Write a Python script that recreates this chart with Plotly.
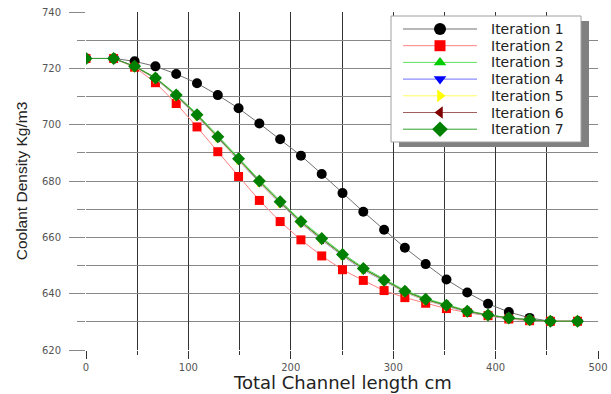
import plotly.graph_objects as go

x_cm = [0, 27, 47.5, 67.8, 88.1, 108.4, 128.7, 149, 169.3, 189.6, 209.9, 230.2,
        250.5, 270.8, 291.1, 311.4, 331.7, 352, 372.3, 392.6, 412.9, 433.2, 453.5, 480]

it1 = [723.5, 723.5, 722.5, 720.7, 718.0, 714.7, 710.5, 705.8, 700.4, 694.8, 689.0, 682.5,
       675.7, 669.1, 662.7, 656.3, 650.5, 645.0, 640.4, 636.4, 633.5, 631.4, 630.2, 630.2]
it2 = [723.5, 723.5, 720.4, 714.9, 707.5, 699.2, 690.4, 681.6, 673.1, 665.6, 659.1, 653.4,
       648.5, 644.7, 641.1, 638.6, 636.6, 634.7, 633.3, 632.2, 631.0, 630.4, 630.2, 630.2]
it3 = [723.5, 723.5, 720.8, 716.8, 710.8, 703.9, 696.1, 688.3, 680.4, 673.0, 666.0, 660.0,
       654.3, 649.3, 645.2, 641.2, 638.3, 636.1, 634.0, 632.5, 631.5, 630.8, 630.2, 630.2]
it4 = [723.5, 723.5, 720.6, 716.3, 710.1, 703.0, 695.2, 687.3, 679.4, 672.0, 665.0, 659.0,
       653.4, 648.4, 644.3, 640.5, 637.6, 635.5, 633.5, 632.2, 631.2, 630.6, 630.2, 630.2]
it5 = [723.5, 723.5, 720.6, 716.4, 710.2, 703.1, 695.3, 687.5, 679.6, 672.2, 665.2, 659.2,
       653.6, 648.6, 644.5, 640.6, 637.7, 635.6, 633.6, 632.3, 631.3, 630.6, 630.2, 630.2]
it6 = [723.5, 723.5, 720.7, 716.5, 710.4, 703.3, 695.5, 687.7, 679.8, 672.4, 665.4, 659.4,
       653.8, 648.8, 644.7, 640.8, 637.9, 635.8, 633.7, 632.4, 631.4, 630.7, 630.2, 630.2]
it7 = [723.5, 723.5, 720.7, 716.6, 710.5, 703.5, 695.7, 687.9, 680.0, 672.6, 665.6, 659.6,
       653.9, 648.9, 644.8, 640.9, 638.0, 635.9, 633.8, 632.4, 631.4, 630.7, 630.2, 630.2]

names = ["Iteration 1", "Iteration 2", "Iteration 3", "Iteration 4",
         "Iteration 5", "Iteration 6", "Iteration 7"]
series = [it1, it2, it3, it4, it5, it6, it7]

styles = [
    dict(mc="#000000", lc="#707070", sym="circle", size=10),
    dict(mc="#ff0000", lc="#ff8080", sym="square", size=9),
    dict(mc="#00cc00", lc="#60e060", sym="triangle-up", size=9),
    dict(mc="#0000ff", lc="#7070ff", sym="triangle-down", size=9),
    dict(mc="#ffff00", lc="#ffff60", sym="triangle-right", size=9),
    dict(mc="#800000", lc="#a06060", sym="triangle-left", size=9),
    dict(mc="#008000", lc="#30a030", sym="diamond", size=10),
]

W, H = 611, 394
ml, mr, mt, mb = 86, 13, 12, 44
ph = H - mt - mb

fig = go.Figure()
for name, ys, st in zip(names, series, styles):
    fig.add_trace(go.Scatter(
        x=x_cm, y=ys, name=name, mode="lines+markers", showlegend=False,
        line=dict(color=st["lc"], width=1),
        marker=dict(color=st["mc"], symbol=st["sym"], size=st["size"],
                    opacity=1, line=dict(width=0)),
    ))

# ---- hand-drawn legend on an overlay axis measured in page pixels ----
LEG_L, LEG_R, LEG_T, LEG_B = 391, 581, 16, 142
SHX, SHY = 8, 5
ROW0, ROWSTEP = 29, 16.7
LINE_X0, LINE_X1, MARK_X, TEXT_X = 403, 477, 440, 489

def box(l, r, t, b):
    return [l, r, r, l, l], [t, t, b, b, t]

sx, sy = box(LEG_L + SHX, LEG_R + SHX, LEG_T + SHY, LEG_B + SHY)
fig.add_trace(go.Scatter(x=sx, y=sy, xaxis="x2", yaxis="y2", mode="lines", fill="toself",
                         fillcolor="#808080", line=dict(width=0, color="#808080"),
                         showlegend=False, hoverinfo="skip"))
bx, by = box(LEG_L, LEG_R, LEG_T, LEG_B)
fig.add_trace(go.Scatter(x=bx, y=by, xaxis="x2", yaxis="y2", mode="lines", fill="toself",
                         fillcolor="white", line=dict(width=1, color="#a0a0a0"),
                         showlegend=False, hoverinfo="skip"))

for i, (name, st) in enumerate(zip(names, styles)):
    ry = ROW0 + i * ROWSTEP
    fig.add_trace(go.Scatter(x=[LINE_X0, LINE_X1], y=[ry, ry],
                             xaxis="x2", yaxis="y2", mode="lines",
                             line=dict(color=st["lc"], width=1),
                             showlegend=False, hoverinfo="skip"))
    fig.add_trace(go.Scatter(x=[MARK_X], y=[ry],
                             xaxis="x2", yaxis="y2", mode="markers",
                             marker=dict(color=st["mc"], symbol=st["sym"],
                                         size=st["size"] + 2, opacity=1, line=dict(width=0)),
                             showlegend=False, hoverinfo="skip"))
    fig.add_annotation(xref="x2", yref="y2", x=TEXT_X, y=ry, text=name,
                       showarrow=False, xanchor="left", yanchor="middle",
                       font=dict(family="DejaVu Sans", size=14, color="#222"))

# x-axis title placed just above the bottom edge of the page
fig.add_annotation(xref="paper", yref="paper", x=0.5, y=-(mb - 0.5) / ph,
                   xanchor="center", yanchor="bottom", showarrow=False,
                   text="Total Channel length cm", borderpad=0,
                   font=dict(family="DejaVu Sans", size=18, color="#222"))

fig.update_layout(
    width=W, height=H,
    margin=dict(l=ml, r=mr, t=mt, b=mb),
    paper_bgcolor="white", plot_bgcolor="white",
    font=dict(family="DejaVu Sans", color="#222"),
    showlegend=False,
    hovermode=False,
    xaxis=dict(
        range=[0, 500], dtick=100, tick0=0, automargin=False,
        showgrid=True, gridcolor="#333", gridwidth=1,
        ticks="outside", ticklen=8, tickcolor="#333", tickwidth=1,
        minor=dict(dtick=50, showgrid=True, gridcolor="#333", ticks="outside",
                   ticklen=4, tickcolor="#333"),
        zeroline=False, showline=False,
        tickfont=dict(family="DejaVu Sans", size=10, color="#555"),
        ticklabelstandoff=0,
    ),
    yaxis=dict(
        range=[620, 740], dtick=20, tick0=620, automargin=False,
        showgrid=True, gridcolor="#888", gridwidth=1,
        ticks="outside", ticklen=16, tickcolor="#888", tickwidth=1,
        minor=dict(dtick=10, showgrid=True, gridcolor="#888", ticks="outside",
                   ticklen=8, tickcolor="#888"),
        zeroline=False, showline=False,
        tickfont=dict(family="DejaVu Sans", size=10, color="#555"),
        ticklabelstandoff=6,
        title=dict(text="Coolant Density Kg/m3", standoff=10,
                   font=dict(family="Liberation Sans", size=15.5, color="#222")),
    ),
    xaxis2=dict(overlaying="x", range=[ml, W - mr], visible=False, fixedrange=True),
    yaxis2=dict(overlaying="y", range=[H - mb, mt], visible=False, fixedrange=True),
)

fig.write_html("out.html", config={"displayModeBar": False},
               post_script="document.body.style.margin='0';document.body.style.overflow='hidden';")
